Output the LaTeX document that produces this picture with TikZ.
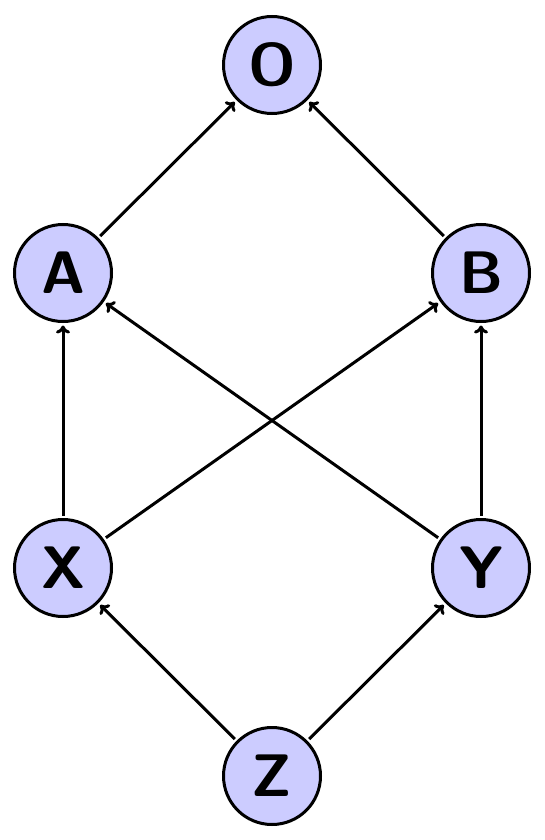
\documentclass[tikz,border=0pt]{standalone}
\usetikzlibrary{arrows.meta}
\begin{document}
\begin{tikzpicture}[x=1pt,y=-1pt,
  vert/.style={circle,draw=black,line width=3pt,fill=blue!20,minimum size=97pt,inner sep=0pt,outer sep=4pt,font=\fontsize{60}{60}\selectfont\sffamily\bfseries},
  edge/.style={-{To[length=8pt,width=14pt]},line width=3pt}]
\useasboundingbox (0,0) rectangle (545,840);
\node[vert] (O) at (272,65) {O};
\node[vert] (A) at (63,273) {A};
\node[vert] (B) at (481,273) {B};
\node[vert] (X) at (63,568) {X};
\node[vert] (Y) at (481,568) {Y};
\node[vert] (Z) at (272,776) {Z};
\draw[edge] (A) -- (O);
\draw[edge] (B) -- (O);
\draw[edge] (X) -- (A);
\draw[edge] (Y) -- (B);
\draw[edge] (X) -- (B);
\draw[edge] (Y) -- (A);
\draw[edge] (Z) -- (X);
\draw[edge] (Z) -- (Y);
\end{tikzpicture}
\end{document}
